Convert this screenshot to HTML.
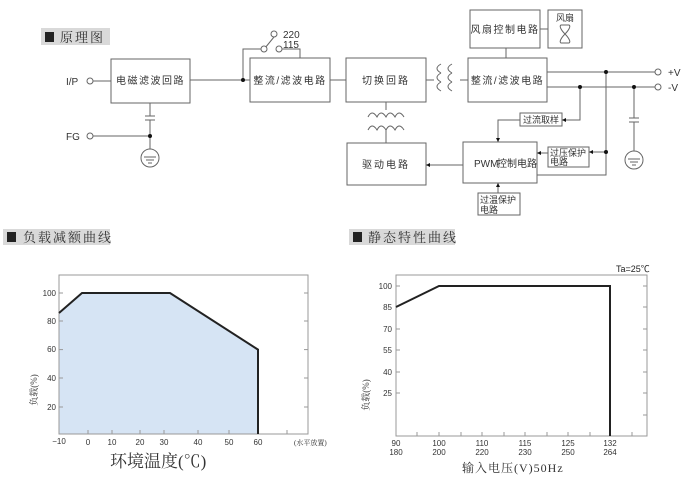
<!DOCTYPE html>
<html><head><meta charset="utf-8"><style>
html,body{margin:0;padding:0;background:#fff;}
svg{display:block;}
text{font-family:"Liberation Sans","Noto Sans CJK SC",sans-serif;}
.cn{font-family:"Liberation Serif","Noto Serif CJK SC",serif;fill:#333;}
</style></head><body>
<svg width="690" height="482" viewBox="0 0 690 482" xmlns="http://www.w3.org/2000/svg">
<rect width="690" height="482" fill="#fff"/>
<rect x="41" y="28" width="69" height="17" fill="#d9d9d9"/>
<rect x="45" y="32" width="9" height="10" fill="#222"/>
<text x="60" y="42" class="cn" font-size="13" letter-spacing="2">原理图</text>

<rect x="3" y="229" width="107" height="16" fill="#d9d9d9"/>
<rect x="7" y="232" width="9" height="10" fill="#222"/>
<text x="23" y="242" class="cn" font-size="13" letter-spacing="2">负载减额曲线</text>

<rect x="349" y="229" width="106" height="16" fill="#d9d9d9"/>
<rect x="353" y="232" width="9" height="10" fill="#222"/>
<text x="368" y="242" class="cn" font-size="13" letter-spacing="2">静态特性曲线</text>

<g stroke="#666" stroke-width="1" fill="#fff">
<rect x="111" y="59" width="79" height="44"/>
<rect x="250" y="58" width="80" height="44"/>
<rect x="346" y="58" width="80" height="44"/>
<rect x="468" y="58" width="79" height="44"/>
<rect x="470" y="10" width="70" height="38"/>
<rect x="548" y="10" width="34" height="38"/>
<rect x="347" y="143" width="79" height="42"/>
<rect x="463" y="142" width="74" height="41"/>
<rect x="520" y="113" width="42" height="13"/>
<rect x="548" y="147" width="41" height="20"/>
<rect x="478" y="193" width="42" height="22"/>
</g>
<g stroke="#666" stroke-width="1" fill="none">
<line x1="93" y1="81" x2="111" y2="81"/>
<line x1="93" y1="136" x2="150" y2="136"/>
<line x1="150" y1="103" x2="150" y2="116"/>
<line x1="145" y1="116" x2="155" y2="116"/>
<line x1="145" y1="120" x2="155" y2="120"/>
<line x1="150" y1="120" x2="150" y2="149"/>
<circle cx="150" cy="158" r="9"/>
<line x1="144" y1="157" x2="156" y2="157"/>
<line x1="146" y1="160" x2="154" y2="160"/>
<line x1="148" y1="163" x2="152" y2="163"/>
<line x1="190" y1="80" x2="250" y2="80"/>
<polyline points="243,80 243,49 262,49"/>
<line x1="265" y1="48" x2="274" y2="37"/>
<polyline points="281,49 300,49 300,58"/>
<line x1="330" y1="80" x2="346" y2="80"/>
<line x1="426" y1="80" x2="434" y2="80"/>
<line x1="460" y1="80" x2="468" y2="80"/>
<path d="M441,64 q-8,4.5 0,9 M441,73 q-8,4.5 0,9 M441,82 q-8,4.5 0,9"/>
<path d="M452,64 q-8,4.5 0,9 M452,73 q-8,4.5 0,9 M452,82 q-8,4.5 0,9"/>
<line x1="506" y1="48" x2="506" y2="58"/>
<line x1="540" y1="29" x2="548" y2="29"/>
<path d="M565,34 C561,30 559,26 561,25 L569,25 C571,26 569,30 565,34 C561,38 559,42 561,43 L569,43 C571,42 569,38 565,34 Z"/>
<line x1="547" y1="72" x2="655" y2="72"/>
<line x1="547" y1="87" x2="655" y2="87"/>
<line x1="634" y1="87" x2="634" y2="118"/>
<line x1="629" y1="118" x2="639" y2="118"/>
<line x1="629" y1="122" x2="639" y2="122"/>
<line x1="634" y1="122" x2="634" y2="151"/>
<circle cx="634" cy="160" r="9"/>
<line x1="628" y1="159" x2="640" y2="159"/>
<line x1="630" y1="162" x2="638" y2="162"/>
<line x1="632" y1="165" x2="636" y2="165"/>
<polyline points="580,87 580,120 562,120"/>
<polyline points="520,120 498,120 498,142"/>
<polyline points="606,72 606,175 537,175"/>
<line x1="606" y1="152" x2="589" y2="152"/>
<line x1="548" y1="153" x2="537" y2="153"/>
<line x1="463" y1="165" x2="426" y2="165"/>
<line x1="498" y1="193" x2="498" y2="183"/>
<line x1="386" y1="102" x2="386" y2="110"/>
<path d="M368,117 q4,-8 9,0 q4,-8 9,0 q4,-8 9,0 q4,-8 9,0"/>
<path d="M368,130 q4,-8 9,0 q4,-8 9,0 q4,-8 9,0 q4,-8 9,0"/>
<line x1="386" y1="130" x2="386" y2="143"/>
</g>
<g fill="#fff" stroke="#666">
<circle cx="90" cy="81" r="3"/><circle cx="90" cy="136" r="3"/>
<circle cx="264" cy="49" r="3"/><circle cx="274" cy="34" r="3"/><circle cx="279" cy="49" r="3"/>
<circle cx="658" cy="72" r="3"/><circle cx="658" cy="87" r="3"/>
</g>
<g fill="#111">
<circle cx="150" cy="136" r="2"/><circle cx="243" cy="80" r="2"/>
<circle cx="606" cy="72" r="2"/><circle cx="580" cy="87" r="2"/><circle cx="634" cy="87" r="2"/><circle cx="606" cy="152" r="2"/>
<path d="M562,120 l4,-2 v4z"/><path d="M498,142 l-2,-4 h4z"/><path d="M589,152 l4,-2 v4z"/>
<path d="M537,153 l4,-2 v4z"/><path d="M426,165 l4,-2 v4z"/><path d="M498,183 l-2,4 h4z"/>
</g>
<g font-size="10" fill="#333">
<text x="66" y="85">I/P</text><text x="66" y="140">FG</text>
<text x="283" y="38">220</text><text x="283" y="48">115</text>
<text x="668" y="76">+V</text><text x="668" y="91">-V</text>
<text x="474" y="167" font-size="10">PWM</text>
</g>
<g class="cn" font-size="10">
<text x="150.5" y="84" text-anchor="middle" letter-spacing="1.5">电磁滤波回路</text>
<text x="290" y="84" text-anchor="middle" letter-spacing="1.5">整流/滤波电路</text>
<text x="386" y="84" text-anchor="middle" letter-spacing="2">切换回路</text>
<text x="507.5" y="84" text-anchor="middle" letter-spacing="1.5">整流/滤波电路</text>
<text x="505" y="33" text-anchor="middle" letter-spacing="1.5">风扇控制电路</text>
<text x="565" y="21" text-anchor="middle" font-size="9">风扇</text>
<text x="386" y="168" text-anchor="middle" letter-spacing="2">驱动电路</text>
<text x="497" y="167">控制电路</text>
<text x="541" y="123" text-anchor="middle" font-size="9">过流取样</text>
<text x="550" y="156" font-size="9">过压保护</text><text x="550" y="165" font-size="9">电路</text>
<text x="480" y="203" font-size="9">过温保护</text><text x="480" y="213" font-size="9">电路</text>
</g>

<polygon points="59,313 82,293 170,293 258,349.6 258,434 59,434" fill="#d6e4f4"/>
<rect x="59" y="275" width="249" height="159" fill="none" stroke="#999"/>
<polyline points="59,313 82,293 170,293 258,349.6 258,434" fill="none" stroke="#222" stroke-width="2"/>
<g stroke="#999">
<line x1="59" y1="293" x2="63" y2="293"/><line x1="59" y1="321" x2="63" y2="321"/><line x1="59" y1="349.6" x2="63" y2="349.6"/><line x1="59" y1="378" x2="63" y2="378"/><line x1="59" y1="407" x2="63" y2="407"/>
<line x1="304" y1="293" x2="308" y2="293"/><line x1="304" y1="321" x2="308" y2="321"/><line x1="304" y1="349.6" x2="308" y2="349.6"/><line x1="304" y1="378" x2="308" y2="378"/><line x1="304" y1="407" x2="308" y2="407"/>
<line x1="88" y1="430" x2="88" y2="434"/><line x1="112" y1="430" x2="112" y2="434"/><line x1="140" y1="430" x2="140" y2="434"/><line x1="164" y1="430" x2="164" y2="434"/><line x1="198" y1="430" x2="198" y2="434"/><line x1="229" y1="430" x2="229" y2="434"/><line x1="287" y1="430" x2="287" y2="434"/>
</g>
<g font-size="8" fill="#333" text-anchor="end">
<text x="56" y="296">100</text><text x="56" y="324">80</text><text x="56" y="352">60</text><text x="56" y="381">40</text><text x="56" y="410">20</text>
</g>
<g font-size="8" fill="#333" text-anchor="middle">
<text x="59" y="444">−10</text><text x="88" y="445">0</text><text x="112" y="445">10</text><text x="140" y="445">20</text><text x="164" y="445">30</text><text x="198" y="445">40</text><text x="229" y="445">50</text><text x="258" y="445">60</text>
</g>
<text x="294" y="445" class="cn" font-size="7">(水平放置)</text>
<text x="110" y="467" class="cn" font-size="17" fill="#444">环境温度(℃)</text>
<text transform="translate(37,390) rotate(-90)" class="cn" font-size="9" fill="#666" text-anchor="middle">负载(%)</text>

<rect x="396" y="275" width="251" height="161" fill="none" stroke="#999"/>
<polyline points="396,307 439,286 610,286 610,436" fill="none" stroke="#222" stroke-width="2"/>
<g stroke="#999">
<line x1="643" y1="286" x2="647" y2="286"/><line x1="643" y1="307" x2="647" y2="307"/><line x1="643" y1="329" x2="647" y2="329"/><line x1="643" y1="350" x2="647" y2="350"/><line x1="643" y1="372" x2="647" y2="372"/><line x1="643" y1="393" x2="647" y2="393"/><line x1="643" y1="415" x2="647" y2="415"/>
<line x1="396" y1="286" x2="400" y2="286"/><line x1="396" y1="329" x2="400" y2="329"/><line x1="396" y1="350" x2="400" y2="350"/><line x1="396" y1="372" x2="400" y2="372"/><line x1="396" y1="393" x2="400" y2="393"/>
<line x1="417" y1="432" x2="417" y2="436"/><line x1="439" y1="432" x2="439" y2="436"/><line x1="461" y1="432" x2="461" y2="436"/><line x1="482" y1="432" x2="482" y2="436"/><line x1="504" y1="432" x2="504" y2="436"/><line x1="525" y1="432" x2="525" y2="436"/><line x1="547" y1="432" x2="547" y2="436"/><line x1="568" y1="432" x2="568" y2="436"/><line x1="590" y1="432" x2="590" y2="436"/><line x1="632" y1="432" x2="632" y2="436"/>
</g>
<g font-size="8" fill="#333" text-anchor="end">
<text x="392" y="289">100</text><text x="392" y="310">85</text><text x="392" y="332">70</text><text x="392" y="353">55</text><text x="392" y="375">40</text><text x="392" y="396">25</text>
</g>
<g font-size="8" fill="#333" text-anchor="middle">
<text x="396" y="446">90</text><text x="396" y="455">180</text>
<text x="439" y="446">100</text><text x="439" y="455">200</text>
<text x="482" y="446">110</text><text x="482" y="455">220</text>
<text x="525" y="446">115</text><text x="525" y="455">230</text>
<text x="568" y="446">125</text><text x="568" y="455">250</text>
<text x="610" y="446">132</text><text x="610" y="455">264</text>
</g>
<text x="616" y="272" font-size="9" fill="#222">Ta=25℃</text>
<text x="462" y="472" class="cn" font-size="12" fill="#555" letter-spacing="1">输入电压(V)50Hz</text>
<text transform="translate(369,395) rotate(-90)" class="cn" font-size="9" fill="#666" text-anchor="middle">负载(%)</text>
</svg>
</body></html>
